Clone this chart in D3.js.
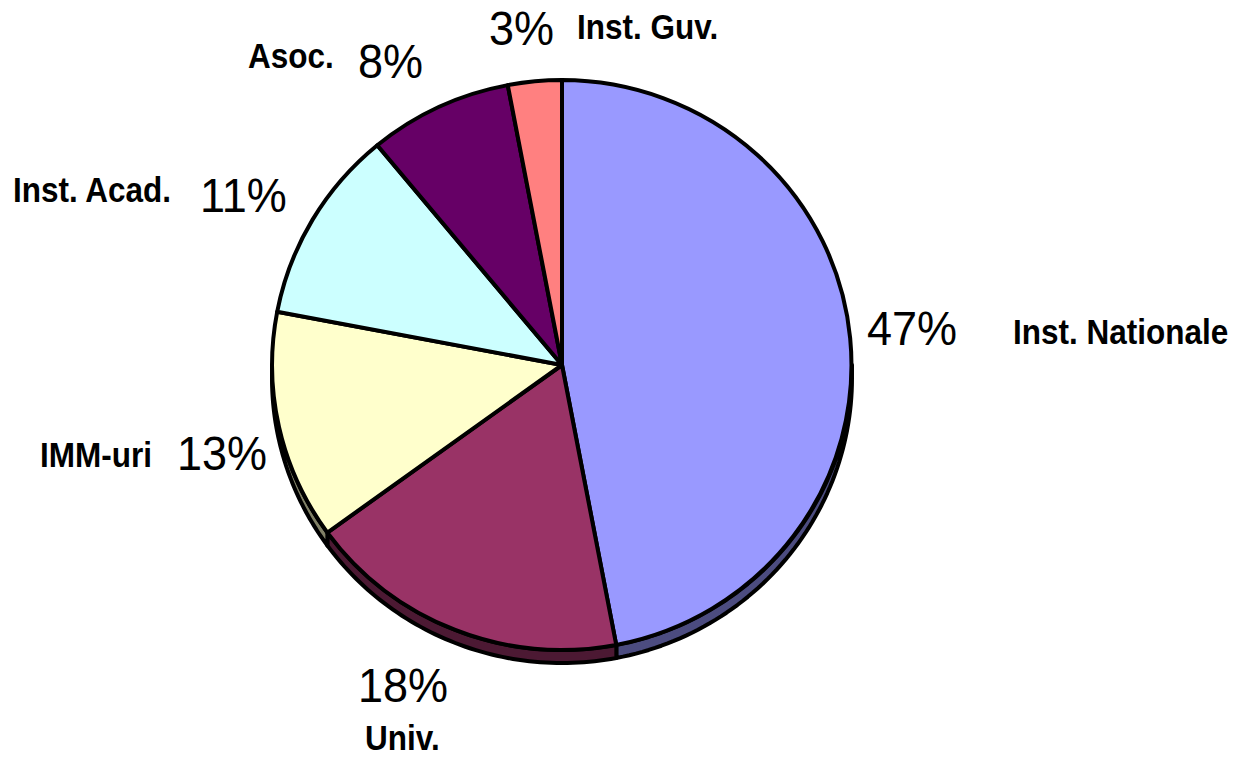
<!DOCTYPE html>
<html>
<head>
<meta charset="utf-8">
<script src="https://cdn.jsdelivr.net/npm/d3@7"></script>
<style>
  body { margin: 0; background: #fff; }
  svg { display: block; }
  text { font-family: Arial, "Liberation Sans", sans-serif; fill: #000; }
</style>
</head>
<body>
<svg width="1239" height="760"></svg>
<script>
// data
var categories = ["Inst. Nationale", "Univ.", "IMM-uri", "Inst. Acad.", "Asoc.", "Inst. Guv."];
var values = [47, 18, 13, 11, 8, 3];
var colors = ["#9999ff", "#993366", "#ffffcc", "#ccffff", "#660066", "#ff8080"];
var sideColors = ["#4c4c80", "#4c1933", "#808066", "#668080", "#330033", "#804040"];

// label positions (left x, baseline y) for pct and name
var pctPos = [[867, 345], [358, 702], [177, 470], [200, 212], [358, 78], [489, 45]];
var namePos = [[1013, 344], [365, 750], [40, 467], [13, 202], [248, 68], [577, 39]];

var svg = d3.select("svg");
var cx = 562, cy = 365, rx = 290, ry = 285, depth = 13;

var pie = d3.pie().sort(null).value(function(d) { return d; });
var arcs = pie(values);

// outer point on the ellipse for an angle (d3 convention, 0 = top, clockwise)
function pt(a, dy) {
  return [cx + rx * Math.sin(a), cy - ry * Math.cos(a) + (dy || 0)];
}

// side walls (only visible on the lower half)
var sides = svg.append("g");
arcs.forEach(function(d, i) {
  var a1 = Math.max(d.startAngle, Math.PI / 2);
  var a2 = Math.min(d.endAngle, Math.PI * 1.5);
  if (a2 <= a1) return;
  var top = [], bot = [];
  var n = 60;
  for (var k = 0; k <= n; k++) {
    var a = a1 + (a2 - a1) * k / n;
    top.push(pt(a, 0));
    bot.push(pt(a, depth));
  }
  var poly = top.concat(bot.reverse());
  sides.append("path")
    .attr("d", d3.line()(poly) + "Z")
    .attr("fill", sideColors[i])
    .attr("stroke", "#000")
    .attr("stroke-width", 4)
    .attr("stroke-linejoin", "round");
});

// top faces
var arc = d3.arc().innerRadius(0).outerRadius(1);
svg.append("g")
    .attr("transform", "translate(" + cx + "," + cy + ") scale(" + rx + "," + ry + ")")
  .selectAll("path")
  .data(arcs)
  .enter().append("path")
    .attr("d", arc)
    .attr("fill", function(d, i) { return colors[i]; })
    .attr("stroke", "#000")
    .attr("stroke-width", 4)
    .attr("stroke-linejoin", "round")
    .attr("vector-effect", "non-scaling-stroke");

// labels
var lab = svg.append("g");
arcs.forEach(function(d, i) {
  lab.append("text")
    .attr("transform", "translate(" + pctPos[i][0] + "," + pctPos[i][1] + ") scale(1,1.08)")
    .attr("font-size", 45)
    .text(values[i] + "%");
  lab.append("text")
    .attr("transform", "translate(" + namePos[i][0] + "," + namePos[i][1] + ") scale(1,1.14)")
    .attr("font-size", 31.5)
    .attr("font-weight", "bold")
    .text(categories[i]);
});
</script>
</body>
</html>
